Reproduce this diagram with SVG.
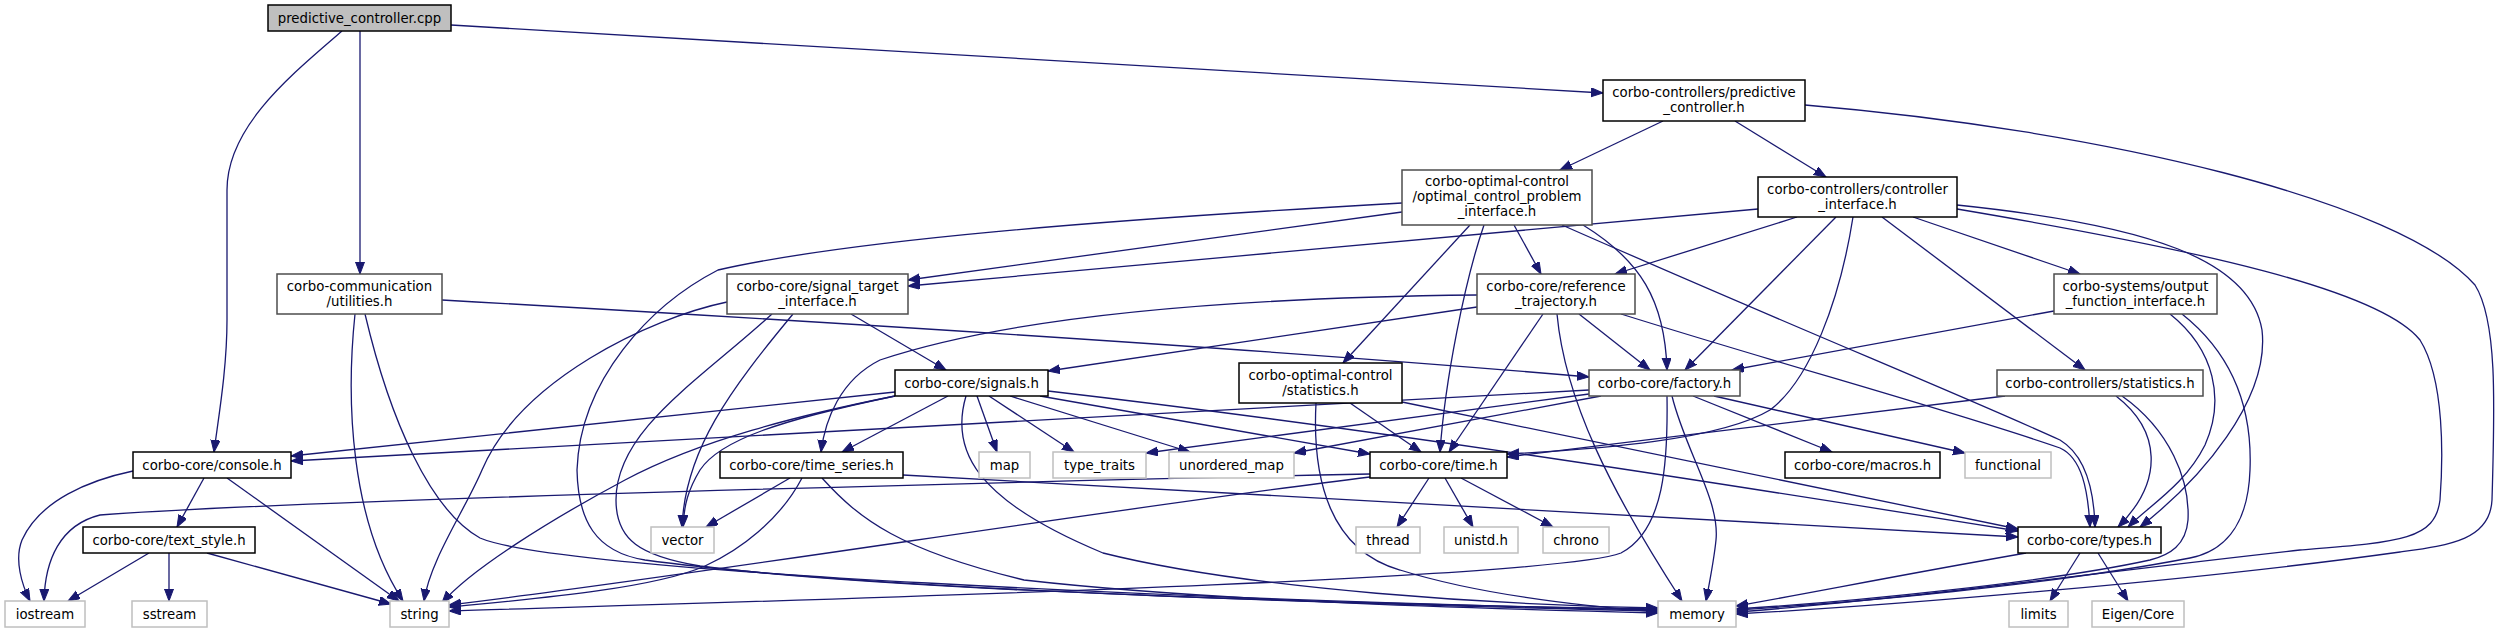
<svg xmlns="http://www.w3.org/2000/svg" width="2500" height="633" viewBox="0 0 2500 633">
<style>
.e{fill:none;stroke:#191970;stroke-width:1.3;marker-end:url(#arr)}
.n rect{fill:#ffffff;stroke:#000000;stroke-width:1.5}
.n.g rect{stroke:#4d4d4d}
.n.s rect{stroke:#bfbfbf}
.n.r rect{fill:#bfbfbf;stroke:#000000}
.n text{font-family:"DejaVu Sans","Liberation Sans",sans-serif;font-size:13.3px;fill:#000000;text-anchor:middle}
</style>
<defs>
<marker id="arr" markerUnits="userSpaceOnUse" markerWidth="14" markerHeight="11" viewBox="0 0 14 11" refX="12" refY="4.5" orient="auto">
<path d="M0,0 L12,4.5 L0,9 Z" fill="#191970" stroke="#191970" stroke-width="1"/>
</marker>
</defs>
<rect x="0" y="0" width="2500" height="633" fill="#ffffff"/>
<g id="connectors">
<path class="e" d="M451,25 L1603,93"/>
<path class="e" d="M360,31 L360,274"/>
<path class="e" d="M342,31 C295,72 227,125 227,190 L227,320 C227,370 218,420 214,452"/>
<path class="e" d="M1663,121 L1560,170"/>
<path class="e" d="M1735,121 L1826,177"/>
<path class="e" d="M1805,105 C2100,130 2400,200 2475,285 C2497,320 2495,400 2492,500 C2490,540 2450,545 2400,552 C2200,580 1900,605 1736,614"/>
<path class="e" d="M1402,212 L908,280"/>
<path class="e" d="M1514,225 L1541,274"/>
<path class="e" d="M1470,225 L1343,363"/>
<path class="e" d="M1484,225 C1465,280 1445,380 1440,452"/>
<path class="e" d="M1583,225 C1640,260 1665,300 1667,370"/>
<path class="e" d="M1562,225 C1800,330 1950,390 2060,440 C2085,455 2094,490 2095,527"/>
<path class="e" d="M1402,203 C1100,220 850,240 718,270 C650,305 580,380 577,470 C578,520 595,552 645,560 C850,588 1300,603 1658,611"/>
<path class="e" d="M1758,209 L908,286"/>
<path class="e" d="M1797,217 L1615,274"/>
<path class="e" d="M1836,217 L1685,370"/>
<path class="e" d="M1853,217 C1840,300 1810,380 1770,410 C1720,440 1600,449 1507,454"/>
<path class="e" d="M1913,217 L2080,274"/>
<path class="e" d="M1882,217 L2085,370"/>
<path class="e" d="M1957,205 C2150,225 2250,260 2262,330 C2270,400 2200,480 2140,527"/>
<path class="e" d="M1957,209 C2200,250 2380,290 2420,340 C2445,380 2443,460 2440,500 C2435,540 2400,542 2300,550 C2100,572 1900,600 1736,612"/>
<path class="e" d="M442,300 C900,326 1300,352 1589,377"/>
<path class="e" d="M355,314 C346,400 350,520 403,601"/>
<path class="e" d="M365,314 C390,420 430,510 480,538 C560,572 1200,600 1658,610"/>
<path class="e" d="M851,314 L946,370"/>
<path class="e" d="M793,314 C730,390 685,450 682,527"/>
<path class="e" d="M727,302 C650,318 520,380 482,470 C465,510 430,560 424,601"/>
<path class="e" d="M772,314 C700,380 616,430 616,500 C616,540 640,556 700,566 C900,592 1400,605 1658,609"/>
<path class="e" d="M1477,307 L1048,371"/>
<path class="e" d="M1477,295 C1200,298 1000,320 880,360 C840,380 825,420 821,452"/>
<path class="e" d="M1543,314 L1449,452"/>
<path class="e" d="M1579,314 L1650,370"/>
<path class="e" d="M1621,314 C1800,370 1950,410 2060,448 C2082,458 2088,490 2090,527"/>
<path class="e" d="M1557,314 C1565,400 1610,490 1682,601"/>
<path class="e" d="M2054,311 L1732,370"/>
<path class="e" d="M2170,314 C2215,350 2225,400 2205,445 C2185,485 2150,505 2128,527"/>
<path class="e" d="M2182,314 C2240,360 2252,420 2250,470 C2248,530 2220,552 2190,558 C2050,585 1850,603 1736,610"/>
<path class="e" d="M895,392 L291,456"/>
<path class="e" d="M948,396 L842,452"/>
<path class="e" d="M977,396 L997,452"/>
<path class="e" d="M989,396 L1074,452"/>
<path class="e" d="M1010,396 L1190,452"/>
<path class="e" d="M1040,396 L1370,454"/>
<path class="e" d="M1048,391 C1400,432 1750,488 2018,531"/>
<path class="e" d="M895,396 C780,420 720,440 700,470 C688,490 684,505 683,527"/>
<path class="e" d="M895,396 C800,415 700,440 625,480 C550,520 470,570 442,603"/>
<path class="e" d="M966,396 C950,450 975,500 1103,553 C1250,590 1500,605 1658,608"/>
<path class="e" d="M1350,403 L1421,452"/>
<path class="e" d="M1402,402 L2018,529"/>
<path class="e" d="M1316,403 C1312,480 1330,550 1400,570 C1480,595 1580,606 1658,612"/>
<path class="e" d="M1589,390 L291,461"/>
<path class="e" d="M1589,394 L1146,453"/>
<path class="e" d="M1601,396 L1294,453"/>
<path class="e" d="M1693,396 L1832,452"/>
<path class="e" d="M1714,396 L1965,453"/>
<path class="e" d="M1672,396 C1685,450 1720,500 1716,540 C1714,560 1710,580 1706,601"/>
<path class="e" d="M1667,396 C1668,460 1665,530 1621,553 C1550,580 800,600 449,611"/>
<path class="e" d="M2005,396 L1507,457"/>
<path class="e" d="M2116,396 C2160,430 2165,480 2118,527"/>
<path class="e" d="M2122,396 C2170,430 2190,480 2188,520 C2186,545 2170,555 2150,560 C2050,582 1850,602 1736,609"/>
<path class="e" d="M204,478 L177,527"/>
<path class="e" d="M133,471 C90,480 40,500 22,540 C14,560 22,585 30,601"/>
<path class="e" d="M227,478 L399,601"/>
<path class="e" d="M790,478 L706,527"/>
<path class="e" d="M903,475 L2018,537"/>
<path class="e" d="M802,478 C780,520 740,550 705,566 C650,590 520,600 449,607"/>
<path class="e" d="M822,478 C860,520 900,550 1024,580 C1200,600 1450,608 1658,613"/>
<path class="e" d="M1429,478 L1397,527"/>
<path class="e" d="M1445,478 L1473,527"/>
<path class="e" d="M1461,478 L1553,527"/>
<path class="e" d="M1370,474 C1000,482 300,500 100,515 C60,525 45,560 44,601"/>
<path class="e" d="M1370,477 C1100,510 700,575 449,605"/>
<path class="e" d="M149,553 L68,601"/>
<path class="e" d="M169,553 L169,601"/>
<path class="e" d="M207,553 L391,604"/>
<path class="e" d="M2080,553 L2050,601"/>
<path class="e" d="M2098,553 L2128,601"/>
<path class="e" d="M2026,553 C1900,575 1800,595 1736,606"/>
</g>
<g id="node_cpp" class="n r"><rect x="268" y="5" width="183" height="26"/><text x="359.5" y="23">predictive_controller.cpp</text></g>
<g id="node_pred" class="n"><rect x="1603" y="80" width="202" height="41"/><text x="1704" y="97">corbo-controllers/predictive</text><text x="1704" y="112">_controller.h</text></g>
<g id="node_ocp" class="n g"><rect x="1402" y="170" width="190" height="55"/><text x="1497" y="186">corbo-optimal-control</text><text x="1497" y="201">/optimal_control_problem</text><text x="1497" y="216">_interface.h</text></g>
<g id="node_ctrl" class="n"><rect x="1758" y="177" width="199" height="40"/><text x="1857.5" y="194">corbo-controllers/controller</text><text x="1857.5" y="209">_interface.h</text></g>
<g id="node_util" class="n g"><rect x="277" y="274" width="165" height="40"/><text x="359.5" y="291">corbo-communication</text><text x="359.5" y="306">/utilities.h</text></g>
<g id="node_sigt" class="n g"><rect x="727" y="274" width="181" height="40"/><text x="817.5" y="291">corbo-core/signal_target</text><text x="817.5" y="306">_interface.h</text></g>
<g id="node_ref" class="n g"><rect x="1477" y="274" width="158" height="40"/><text x="1556" y="291">corbo-core/reference</text><text x="1556" y="306">_trajectory.h</text></g>
<g id="node_outf" class="n g"><rect x="2054" y="274" width="163" height="40"/><text x="2135.5" y="291">corbo-systems/output</text><text x="2135.5" y="306">_function_interface.h</text></g>
<g id="node_signals" class="n"><rect x="895" y="370" width="153" height="26"/><text x="971.5" y="388">corbo-core/signals.h</text></g>
<g id="node_ostat" class="n"><rect x="1239" y="363" width="163" height="40"/><text x="1320.5" y="380">corbo-optimal-control</text><text x="1320.5" y="395">/statistics.h</text></g>
<g id="node_factory" class="n g"><rect x="1589" y="370" width="151" height="26"/><text x="1664.5" y="388">corbo-core/factory.h</text></g>
<g id="node_cstat" class="n g"><rect x="1997" y="370" width="206" height="26"/><text x="2100" y="388">corbo-controllers/statistics.h</text></g>
<g id="node_console" class="n"><rect x="133" y="452" width="158" height="26"/><text x="212" y="470">corbo-core/console.h</text></g>
<g id="node_tseries" class="n"><rect x="720" y="452" width="183" height="26"/><text x="811.5" y="470">corbo-core/time_series.h</text></g>
<g id="node_map" class="n s"><rect x="979" y="452" width="51" height="26"/><text x="1004.5" y="470">map</text></g>
<g id="node_type_traits" class="n s"><rect x="1053" y="452" width="93" height="26"/><text x="1099.5" y="470">type_traits</text></g>
<g id="node_unordered_map" class="n s"><rect x="1169" y="452" width="125" height="26"/><text x="1231.5" y="470">unordered_map</text></g>
<g id="node_time" class="n"><rect x="1370" y="452" width="137" height="26"/><text x="1438.5" y="470">corbo-core/time.h</text></g>
<g id="node_macros" class="n"><rect x="1785" y="452" width="155" height="26"/><text x="1862.5" y="470">corbo-core/macros.h</text></g>
<g id="node_functional" class="n s"><rect x="1965" y="452" width="86" height="26"/><text x="2008" y="470">functional</text></g>
<g id="node_text_style" class="n"><rect x="83" y="527" width="172" height="26"/><text x="169" y="545">corbo-core/text_style.h</text></g>
<g id="node_vector" class="n s"><rect x="651" y="527" width="63" height="26"/><text x="682.5" y="545">vector</text></g>
<g id="node_thread" class="n s"><rect x="1356" y="527" width="64" height="26"/><text x="1388" y="545">thread</text></g>
<g id="node_unistd" class="n s"><rect x="1444" y="527" width="74" height="26"/><text x="1481" y="545">unistd.h</text></g>
<g id="node_chrono" class="n s"><rect x="1543" y="527" width="66" height="26"/><text x="1576" y="545">chrono</text></g>
<g id="node_types" class="n"><rect x="2018" y="527" width="143" height="26"/><text x="2089.5" y="545">corbo-core/types.h</text></g>
<g id="node_iostream" class="n s"><rect x="5" y="601" width="80" height="26"/><text x="45" y="619">iostream</text></g>
<g id="node_sstream" class="n s"><rect x="132" y="601" width="75" height="26"/><text x="169.5" y="619">sstream</text></g>
<g id="node_string" class="n s"><rect x="390" y="601" width="59" height="26"/><text x="419.5" y="619">string</text></g>
<g id="node_memory" class="n s"><rect x="1658" y="601" width="78" height="26"/><text x="1697" y="619">memory</text></g>
<g id="node_limits" class="n s"><rect x="2009" y="601" width="59" height="26"/><text x="2038.5" y="619">limits</text></g>
<g id="node_eigen" class="n s"><rect x="2092" y="601" width="92" height="26"/><text x="2138" y="619">Eigen/Core</text></g>
</svg>
